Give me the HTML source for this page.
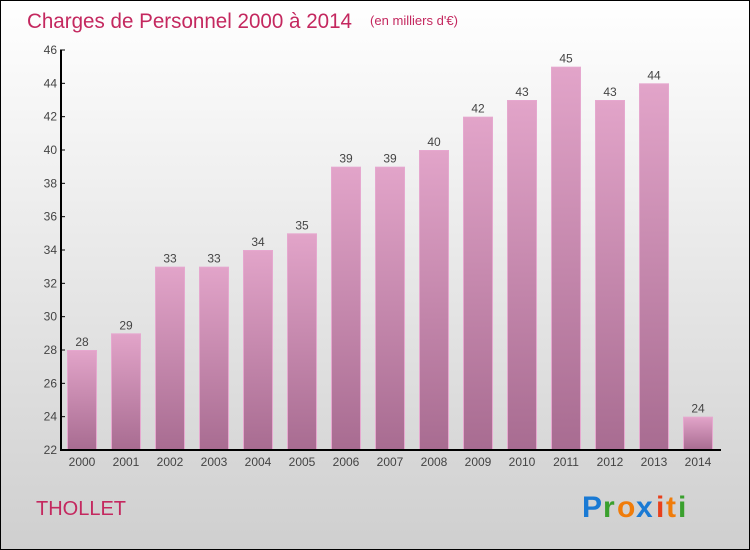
<!DOCTYPE html>
<html><head><meta charset="utf-8"><style>
body{margin:0;background:#fff}
svg{display:block;font-family:"Liberation Sans",sans-serif}
</style></head><body>
<svg width="750" height="550" viewBox="0 0 750 550">
<defs>
<linearGradient id="bg" x1="0" y1="0" x2="0" y2="1"><stop offset="0" stop-color="#ffffff"/><stop offset="1" stop-color="#cfcfcf"/></linearGradient>
<linearGradient id="bar" x1="0" y1="0" x2="0" y2="1"><stop offset="0" stop-color="#e2a4c9"/><stop offset="1" stop-color="#a86c91"/></linearGradient>
</defs>
<rect x="0.5" y="0.5" width="749" height="549" fill="url(#bg)" stroke="#000"/>
<text x="27" y="28" font-size="21" fill="#c4285f" textLength="325" lengthAdjust="spacingAndGlyphs">Charges de Personnel 2000 à 2014</text>
<text x="370" y="25" font-size="13" fill="#c4285f" textLength="88" lengthAdjust="spacingAndGlyphs">(en milliers d'€)</text>
<g id="plot"></g>
<text x="36" y="515" font-size="20" fill="#c4285f">THOLLET</text>
<g font-size="30" font-weight="bold">
<text x="582" y="517" fill="#1a7ad4">P</text><text x="603" y="517" fill="#3aa02e">r</text><text x="617" y="517" fill="#f07c0a">o</text><text x="636" y="517" fill="#1a7ad4">x</text><text x="656" y="517" fill="#e8401c">i</text><text x="666" y="517" fill="#f07c0a">t</text><text x="678" y="517" fill="#3aa02e">i</text>
</g>
</svg>
<script>
const years=["2000","2001","2002","2003","2004","2005","2006","2007","2008","2009","2010","2011","2012","2013","2014"];
const values=[28,29,33,33,34,35,39,39,40,42,43,45,43,44,24];
const yTicks=[22,24,26,28,30,32,34,36,38,40,42,44,46];
const NS="http://www.w3.org/2000/svg";
const plotG=document.getElementById('plot');
const x0=61,y0=450,yMin=22,yMax=46,yTop=50,step=44,bw=30;
const yS=v=>y0-(v-yMin)/(yMax-yMin)*(y0-yTop);
const xc=i=>82+i*step;
function mk(t,a){const e=document.createElementNS(NS,t);for(const k in a)e.setAttribute(k,a[k]);plotG.appendChild(e);return e;}
yTicks.forEach(t=>{
 const l=mk('line',{x1:x0-1,x2:x0+4,y1:yS(t),y2:yS(t),stroke:'#000'});
 
 
 const tx=mk('text',{x:x0-4,y:yS(t)+4,'text-anchor':'end','font-size':12,fill:'#444'});
 tx.textContent=t;
 
 
});
values.forEach((v,i)=>{
 const r=mk('rect',{x:xc(i)-bw/2+0.5,y:yS(v)+0.5,width:bw-1,height:y0-yS(v)-0.5,fill:'url(#bar)',stroke:'#e6a8cf','stroke-width':1});
 
 
 const lb=mk('text',{x:xc(i),y:yS(v)-4,'text-anchor':'middle','font-size':12,fill:'#444'});
 lb.textContent=v;
 
 
 const xl=mk('text',{x:xc(i),y:y0+16,'text-anchor':'middle','font-size':12,fill:'#444'});
 xl.textContent=years[i];
 
 
});
const ya=mk('line',{x1:x0,x2:x0,y1:yTop,y2:y0+1,stroke:'#000','stroke-width':2});


const xa=mk('line',{x1:x0,x2:721,y1:y0,y2:y0,stroke:'#000','stroke-width':2});


</script>
</body></html>
